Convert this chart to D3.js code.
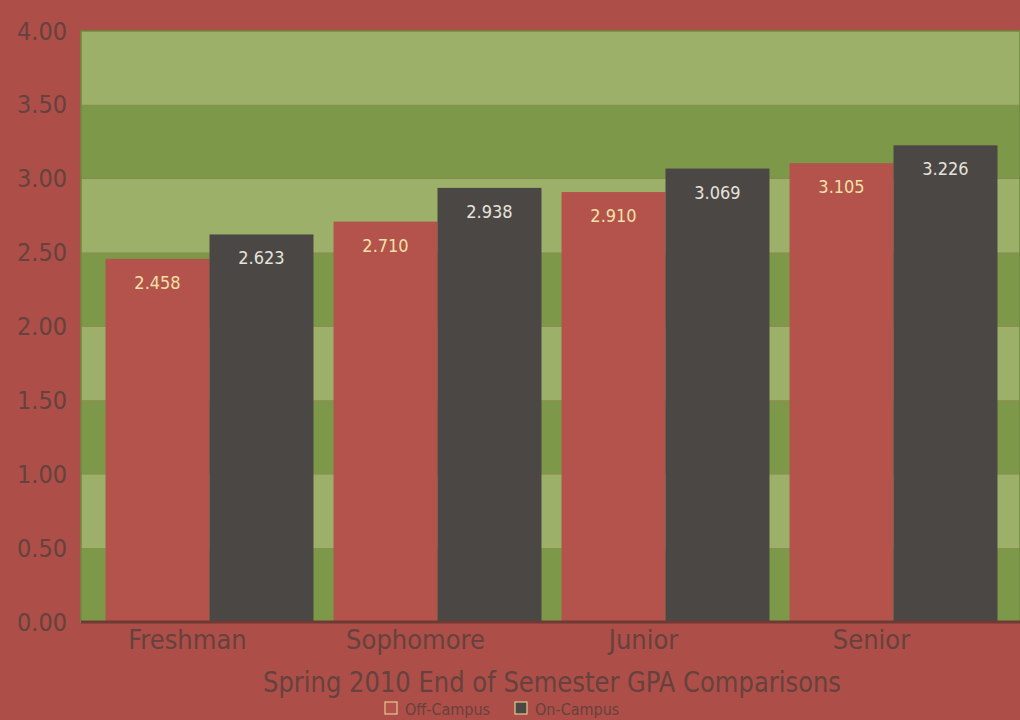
<!DOCTYPE html>
<html><head><meta charset="utf-8">
<script src="https://cdn.jsdelivr.net/npm/d3@7"></script>
<style>html,body{margin:0;padding:0;background:#ad4f48;overflow:hidden}</style>
</head><body>
<script>
const categories = ["Freshman", "Sophomore", "Junior", "Senior"];
const seriesNames = ["Off-Campus", "On-Campus"];
const offCampus = [2.458, 2.710, 2.910, 3.105];
const onCampus = [2.623, 2.938, 3.069, 3.226];
const yTicks = [0, 0.5, 1, 1.5, 2, 2.5, 3, 3.5, 4];
const title = "Spring 2010 End of Semester GPA Comparisons";

const W = 1020, H = 720;
const font = "'Liberation Sans Narrow','DejaVu Sans Condensed','Roboto Condensed',sans-serif";
const colors = {bg:"#ad4f48", off:"#b3534b", on:"#4a4745", light:"#9db06a", dark:"#7c9848", axisText:"#66413d", offText:"#f1e1a6", onText:"#e6e3dc"};

const svg = d3.select("body").append("svg").attr("width", W).attr("height", H)
  .style("font-family", font);
svg.append("rect").attr("width", W).attr("height", H).attr("fill", colors.bg);

const plotL = 81, plotR = 1020, plotT = 31, plotB = 622;
const y = d3.scaleLinear().domain([0, 4]).range([plotB, plotT]);
const x0 = d3.scaleBand().domain(categories).range([95.5, 1007.5]).paddingInner(0.088).paddingOuter(0.044);
const x1 = d3.scaleBand().domain(seriesNames).range([0, x0.bandwidth()]).padding(0);

// background bands
const bands = d3.pairs(yTicks);
svg.append("g").selectAll("rect").data(bands).join("rect")
  .attr("x", plotL).attr("width", plotR - plotL)
  .attr("y", d => y(d[1])).attr("height", d => y(d[0]) - y(d[1]))
  .attr("fill", (d, i) => i % 2 === 0 ? colors.dark : colors.light);
svg.append("rect").attr("x", plotL).attr("y", plotT).attr("width", plotR - plotL).attr("height", plotB - plotT)
  .attr("fill", "none").attr("stroke", "#6f8a3e").attr("stroke-width", 1.5);

// bars
const data = categories.map((c, i) => ({cat: c, vals: [{s: seriesNames[0], v: offCampus[i]}, {s: seriesNames[1], v: onCampus[i]}]}));
const g = svg.append("g").selectAll("g").data(data).join("g")
  .attr("transform", d => `translate(${x0(d.cat)},0)`);
g.selectAll("rect").data(d => d.vals).join("rect")
  .attr("x", d => x1(d.s)).attr("width", x1.bandwidth())
  .attr("y", d => y(d.v)).attr("height", d => y(0) - y(d.v))
  .attr("fill", d => d.s === seriesNames[0] ? colors.off : colors.on);
g.selectAll("text").data(d => d.vals).join("text")
  .attr("x", d => x1(d.s) + x1.bandwidth() / 2)
  .attr("y", d => y(d.v) + 30)
  .attr("text-anchor", "middle").attr("font-size", 18)
  .attr("fill", d => d.s === seriesNames[0] ? colors.offText : colors.onText)
  .text(d => d3.format(".3f")(d.v));

// baseline
svg.append("line").attr("x1", plotL).attr("x2", plotR).attr("y1", y(0)).attr("y2", y(0))
  .attr("stroke", "#6e3a34").attr("stroke-width", 3);

// y axis
const yAxis = d3.axisLeft(y).tickValues(yTicks).tickFormat(d3.format(".2f")).tickSize(0).tickPadding(0);
const ya = svg.append("g").attr("transform", `translate(67,0)`).call(yAxis);
ya.select(".domain").remove();
ya.selectAll("text").attr("font-size", 25).attr("fill", colors.axisText).attr("font-family", font);

// x axis labels
const xAxis = d3.axisBottom(x0).tickSize(0).tickPadding(0);
const xa = svg.append("g").attr("transform", `translate(-22,${plotB + 8})`).call(xAxis);
xa.select(".domain").remove();
xa.selectAll("text").attr("font-size", 27).attr("fill", colors.axisText).attr("font-family", font);

// title
svg.append("text").attr("x", 552).attr("y", 692).attr("text-anchor", "middle")
  .attr("font-size", 28).attr("textLength", 578).attr("lengthAdjust", "spacingAndGlyphs")
  .attr("fill", colors.axisText).text(title);

// legend
const leg = svg.append("g").attr("transform", "translate(385,702)");
const legItems = [{s: seriesNames[0], x: 0}, {s: seriesNames[1], x: 130}];
const li = leg.selectAll("g").data(legItems).join("g").attr("transform", d => `translate(${d.x},0)`);
li.append("rect").attr("width", 12).attr("height", 12)
  .attr("fill", d => d.s === seriesNames[0] ? colors.off : colors.on)
  .attr("stroke", "#e3c98a").attr("stroke-width", 1.2);
li.append("text").attr("x", 20).attr("y", 12.5).attr("font-size", 16).attr("fill", colors.axisText).text(d => d.s);
</script>
</body></html>
